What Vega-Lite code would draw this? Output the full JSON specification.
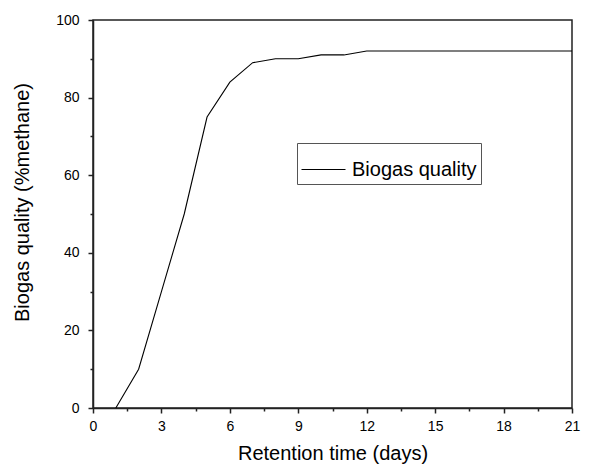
{
  "$schema": "https://vega.github.io/schema/vega-lite/v6.json",
  "width": 479,
  "height": 388,
  "autosize": {"type": "none"},
  "padding": {"left": 93, "top": 20, "right": 17, "bottom": 60},
  "background": "white",
  "config": {
    "font": "Liberation Sans",
    "view": {"stroke": "#222", "strokeWidth": 1.5},
    "axis": {
      "domainColor": "#222",
      "domainWidth": 1.5,
      "tickColor": "#222",
      "tickWidth": 1.5,
      "labelFont": "Liberation Sans",
      "titleFont": "Liberation Sans",
      "labelFontSize": 14,
      "titleFontSize": 20,
      "titleFontWeight": "normal",
      "labelColor": "#000",
      "titleColor": "#000",
      "grid": false
    }
  },
  "data": {
    "values": [
      {"day": 1, "q": 0, "s": "Biogas quality"},
      {"day": 2, "q": 10, "s": "Biogas quality"},
      {"day": 3, "q": 30, "s": "Biogas quality"},
      {"day": 4, "q": 50, "s": "Biogas quality"},
      {"day": 5, "q": 75, "s": "Biogas quality"},
      {"day": 6, "q": 84, "s": "Biogas quality"},
      {"day": 7, "q": 89, "s": "Biogas quality"},
      {"day": 8, "q": 90, "s": "Biogas quality"},
      {"day": 9, "q": 90, "s": "Biogas quality"},
      {"day": 10, "q": 91, "s": "Biogas quality"},
      {"day": 11, "q": 91, "s": "Biogas quality"},
      {"day": 12, "q": 92, "s": "Biogas quality"},
      {"day": 13, "q": 92, "s": "Biogas quality"},
      {"day": 14, "q": 92, "s": "Biogas quality"},
      {"day": 15, "q": 92, "s": "Biogas quality"},
      {"day": 16, "q": 92, "s": "Biogas quality"},
      {"day": 17, "q": 92, "s": "Biogas quality"},
      {"day": 18, "q": 92, "s": "Biogas quality"},
      {"day": 19, "q": 92, "s": "Biogas quality"},
      {"day": 20, "q": 92, "s": "Biogas quality"},
      {"day": 21, "q": 92, "s": "Biogas quality"}
    ]
  },
  "layer": [
    {
      "mark": {"type": "line", "strokeWidth": 1.1},
      "encoding": {
        "x": {
          "field": "day", "type": "quantitative",
          "scale": {"domain": [0, 21], "nice": false, "zero": false},
          "axis": {"title": "Retention time (days)", "values": [0, 3, 6, 9, 12, 15, 18, 21], "tickSize": 5, "labelPadding": 6, "titlePadding": 10, "labelFlush": false}
        },
        "y": {
          "field": "q", "type": "quantitative",
          "scale": {"domain": [0, 100], "nice": false},
          "axis": {"title": "Biogas quality (%methane)", "values": [0, 20, 40, 60, 80, 100], "tickSize": 5, "labelPadding": 9, "titlePadding": 23, "titleY": 182, "labelFlush": false}
        },
        "color": {
          "field": "s", "type": "nominal",
          "scale": {"range": ["#000000"]},
          "legend": {
            "title": null,
            "orient": "none",
            "legendX": 204,
            "legendY": 123,
            "symbolType": "stroke",
            "symbolSize": 1936,
            "symbolStrokeWidth": 1,
            "symbolStrokeColor": "#444",
            "labelFontSize": 20,
            "labelFont": "Liberation Sans",
            "labelColor": "#000",
            "labelOffset": 6,
            "strokeColor": "#555",
            "padding": 4,
            "fillColor": "white"
          }
        }
      }
    },
    {
      "mark": {"type": "line", "opacity": 0},
      "encoding": {
        "x": {
          "field": "day", "type": "quantitative",
          "axis": {"orient": "bottom", "title": null, "labels": false, "domain": false, "values": [1.5, 4.5, 7.5, 10.5, 13.5, 16.5, 19.5], "tickSize": 3}
        },
        "y": {
          "field": "q", "type": "quantitative",
          "axis": {"orient": "left", "title": null, "labels": false, "domain": false, "values": [10, 30, 50, 70, 90], "tickSize": 3}
        }
      }
    }
  ],
  "resolve": {"axis": {"x": "independent", "y": "independent"}}
}
